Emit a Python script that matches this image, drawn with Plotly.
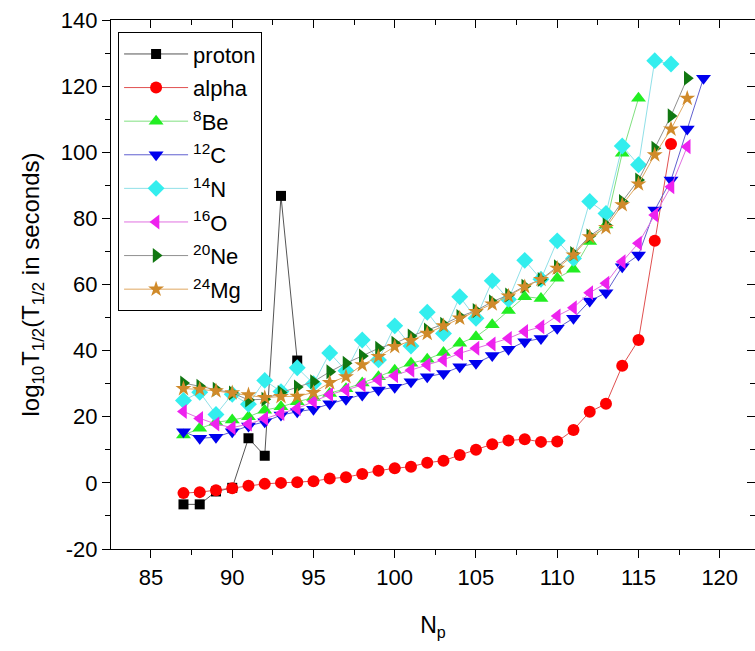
import plotly.graph_objects as go

# Half-life of cluster emission vs proton number Np
np_proton = list(range(87, 95))
logt_proton = [-6.5, -6.5, -2.6, -1.5, 13.5, 8.2, 86.8, 37.0]

np_alpha = list(range(87, 118))
logt_alpha = [-3.1, -2.8, -2.2, -1.6, -0.9, -0.3, 0.0, 0.2, 0.5, 1.3, 1.7, 2.7, 3.7,
              4.4, 4.9, 6.1, 6.7, 8.4, 10.0, 11.7, 12.8, 13.2, 12.4, 12.5, 16.0,
              21.5, 23.9, 35.4, 43.2, 73.2, 102.5]

np_be8 = list(range(87, 116))
logt_be8 = [14.5, 16.5, 18.3, 19.0, 20.0, 22.0, 23.0, 24.5, 25.8, 27.0, 28.5, 30.2,
            32.1, 34.1, 36.2, 37.4, 39.4, 42.2, 44.2, 47.8, 52.1, 56.3, 55.8, 61.9,
            64.6, 73.0, 78.0, 99.7, 116.3]

np_c12 = list(range(87, 120))
logt_c12 = [15.5, 13.5, 13.8, 15.5, 17.2, 18.5, 20.5, 21.5, 22.3, 23.9, 25.3, 26.6,
            28.1, 28.9, 30.6, 32.1, 33.1, 35.1, 36.2, 38.5, 40.4, 42.7, 43.7, 46.8,
            49.8, 55.0, 57.5, 65.4, 68.9, 82.5, 91.6, 107.0, 122.4]

np_n14 = list(range(87, 118))
logt_n14 = [24.9, 27.4, 20.7, 26.8, 23.8, 31.0, 27.6, 34.8, 30.0, 39.3, 33.9, 43.2,
            37.2, 47.5, 41.4, 51.6, 45.2, 56.3, 49.8, 61.1, 55.5, 67.3, 61.6, 73.2,
            67.9, 85.1, 81.5, 101.9, 96.2, 127.7, 126.7]

np_o16 = list(range(87, 119))
logt_o16 = [21.6, 19.5, 17.8, 16.7, 17.8, 19.5, 21.0, 22.5, 24.6, 26.7, 28.1, 29.6,
            31.1, 32.4, 34.1, 35.7, 37.2, 39.2, 40.7, 42.0, 43.7, 45.8, 47.2, 50.5,
            53.0, 57.5, 60.4, 66.9, 72.5, 81.0, 89.6, 101.7]

np_ne20 = list(range(87, 119))
logt_ne20 = [30.2, 29.2, 28.3, 27.2, 25.1, 25.3, 27.3, 29.0, 30.6, 33.6, 36.2, 38.4,
             40.7, 42.2, 44.4, 46.2, 48.0, 50.3, 52.1, 54.8, 56.8, 59.5, 61.5, 65.4,
             69.4, 74.7, 78.0, 85.1, 91.6, 101.2, 111.0, 122.4]

np_mg24 = list(range(87, 119))
logt_mg24 = [28.5, 28.3, 27.8, 27.2, 26.6, 25.8, 26.1, 26.2, 27.3, 30.3, 32.1, 35.7,
             38.2, 41.2, 43.0, 45.2, 47.5, 49.8, 51.8, 54.1, 56.5, 59.3, 61.5, 64.9,
             68.9, 74.4, 77.2, 84.1, 90.4, 99.2, 107.0, 116.3]

# Axis ticks (hyphen-minus labels)
x_ticks = [85, 90, 95, 100, 105, 110, 115, 120]
y_ticks = [-20, 0, 20, 40, 60, 80, 100, 120, 140]
y_ticktext = [str(v) for v in y_ticks]

series = [
    ("proton", np_proton, logt_proton, "square", "#000000", "#555555", 10),
    ("alpha", np_alpha, logt_alpha, "circle", "#ff0000", "#e05050", 12),
    ("<sup>8</sup>Be", np_be8, logt_be8, "triangle-up", "#22ee22", "#80e080", 13),
    ("<sup>12</sup>C", np_c12, logt_c12, "triangle-down", "#0000ee", "#6060d0", 13),
    ("<sup>14</sup>N", np_n14, logt_n14, "diamond", "#33eeee", "#90e0e8", 13),
    ("<sup>16</sup>O", np_o16, logt_o16, "triangle-left", "#ee22ee", "#e070e0", 13),
    ("<sup>20</sup>Ne", np_ne20, logt_ne20, "triangle-right", "#117711", "#909090", 13),
    ("<sup>24</sup>Mg", np_mg24, logt_mg24, "star", "#d08a2a", "#e0a860", 12),
]

FONT = "Liberation Sans, Arial, sans-serif"
XR = [82.54, 122.17]
YR = [-20, 140]

fig = go.Figure()
for name, xs, ys, sym, mcol, lcol, size in series:
    fig.add_trace(go.Scatter(
        x=xs, y=ys, name=name, legendgroup=name, mode="lines+markers",
        line=dict(color=lcol, width=1),
        marker=dict(symbol=sym, color=mcol, size=size, line=dict(width=0)),
    ))

# empty trace so the mirrored top/right axes are rendered
fig.add_trace(go.Scatter(x=[], y=[], xaxis="x2", yaxis="y2",
                         showlegend=False, hoverinfo="skip"))

tick_style = dict(ticklen=8, tickwidth=1.3, tickcolor="black")

fig.update_layout(
    width=755, height=651,
    margin=dict(l=111, r=0, t=20, b=102),
    paper_bgcolor="white", plot_bgcolor="white",
    font=dict(family=FONT, color="black", size=20),
    showlegend=True,
    legend=dict(
        x=0.011, y=0.977, xanchor="left", yanchor="top",
        bgcolor="white", bordercolor="black", borderwidth=1,
        font=dict(family=FONT, size=22, color="black"),
        itemwidth=64, tracegroupgap=2,
    ),
    xaxis=dict(
        range=XR, tickvals=x_ticks,
        ticks="outside", **tick_style,
        showline=True, linecolor="black", linewidth=1.3,
        showgrid=False, zeroline=False,
        minor=dict(ticks="outside", dtick=2.5, tick0=85, ticklen=5, tickwidth=1.3, tickcolor="black"),
        tickfont=dict(size=22),
        title=dict(text="N<sub>p</sub>", font=dict(size=23), standoff=28),
    ),
    yaxis=dict(
        range=YR, tickvals=y_ticks, ticktext=y_ticktext,
        ticks="outside", **tick_style,
        showline=True, linecolor="black", linewidth=1.3,
        showgrid=False, zeroline=False,
        minor=dict(ticks="outside", dtick=10, tick0=0, ticklen=5, tickwidth=1.3, tickcolor="black"),
        tickfont=dict(size=22),
        title=dict(text="log<sub>10</sub>T<sub>1/2</sub>(T<sub>1/2</sub> in seconds)",
                   font=dict(size=24), standoff=14),
    ),
    xaxis2=dict(
        overlaying="x", side="top", anchor="y2",
        range=XR, tickvals=x_ticks,
        ticks="inside", **tick_style,
        showticklabels=False, showline=True, linecolor="black", linewidth=1.3,
        showgrid=False, zeroline=False,
        minor=dict(ticks="inside", dtick=2.5, tick0=85, ticklen=5, tickwidth=1.3, tickcolor="black"),
    ),
    yaxis2=dict(
        overlaying="y", side="right", anchor="x2",
        range=YR, tickvals=y_ticks,
        ticks="inside", **tick_style,
        showticklabels=False, showline=False,
        showgrid=False, zeroline=False,
        minor=dict(ticks="inside", dtick=10, tick0=0, ticklen=5, tickwidth=1.3, tickcolor="black"),
    ),
)

fig.write_html("out.html")
